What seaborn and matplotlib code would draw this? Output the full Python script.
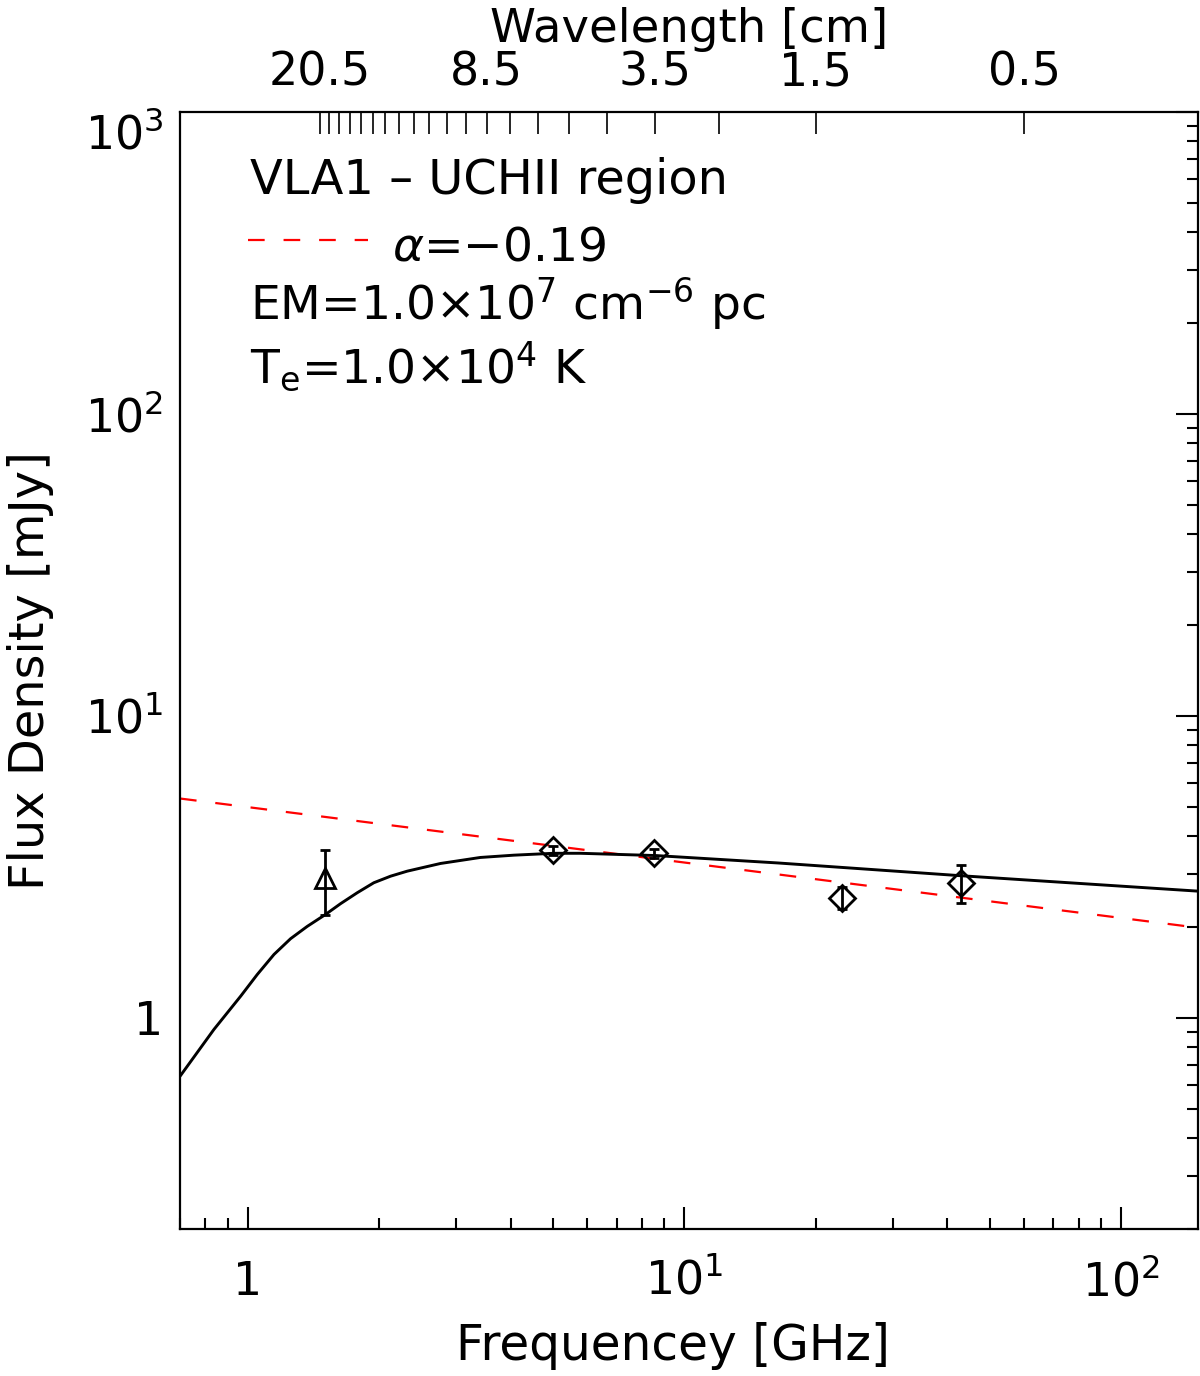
import numpy as np
import pandas as pd
import matplotlib
matplotlib.use('Agg')
import matplotlib.pyplot as plt
import matplotlib.ticker as mticker
import seaborn as sns

# observed flux densities of VLA1 (GHz, mJy)
obs_freq = [1.5, 5.0, 8.5, 23.0, 43.0]
obs_flux = [2.90, 3.59, 3.51, 2.50, 2.80]
obs_err = [0.70, 0.12, 0.12, 0.21, 0.40]
obs_marker = ['^', 'D', 'D', 'D', 'D']

# free-free model curve
model_freq = [0.70, 0.837, 0.964, 1.052, 1.149, 1.254, 1.369, 1.508, 1.632,
              1.782, 1.945, 2.125, 2.32, 2.765, 3.41, 4.07, 5.02, 5.78, 8.6,
              16.4, 42.7, 150.0]
model_flux = [0.641, 0.916, 1.181, 1.393, 1.623, 1.83, 2.01, 2.202, 2.39,
              2.598, 2.804, 2.948, 3.063, 3.248, 3.40, 3.46, 3.51, 3.51, 3.45,
              3.26, 2.96, 2.63]

# power law fit alpha = -0.19
fit_freq = [0.7, 150.0]
fit_flux = [5.33, 1.99]

# top axis: wavelength ticks (cm)
wave_ticks = [0.5, 1.5, 2.5, 3.5, 4.5, 5.5, 6.5, 7.5, 8.5, 9.5, 10.5, 11.5,
              12.5, 13.5, 14.5, 15.5, 16.5, 17.5, 18.5, 19.5, 20.5]
wave_labels = [0.5, 1.5, 3.5, 8.5, 20.5]

x_ticks = [1, 10, 100]
x_ticklabels = ['1', r'$10^1$', r'$10^2$']
y_ticks = [1, 10, 100, 1000]
y_ticklabels = ['1', r'$10^1$', r'$10^2$', r'$10^3$']

sns.set_style('white')
plt.rcParams['font.family'] = ['DejaVu Sans']
plt.rcParams['mathtext.fontset'] = 'dejavusans'
plt.rcParams['text.color'] = 'black'
plt.rcParams['axes.labelcolor'] = 'black'
plt.rcParams['xtick.color'] = 'black'
plt.rcParams['ytick.color'] = 'black'

dash = (0, (7.5, 8.5))

fig = plt.figure(figsize=(12, 13.76), dpi=100)
ax = fig.add_axes([0.15, 0.1068, 0.8483, 0.8118])

model = pd.DataFrame({'freq': model_freq, 'flux': model_flux})
fit = pd.DataFrame({'freq': fit_freq, 'flux': fit_flux})

sns.lineplot(data=fit, x='freq', y='flux', ax=ax, color='#ff0000', lw=1.6,
             linestyle=dash, sort=False, zorder=2)
sns.lineplot(data=model, x='freq', y='flux', ax=ax, color='black', lw=2.1,
             sort=False, zorder=3)

for f, s, e, m in zip(obs_freq, obs_flux, obs_err, obs_marker):
    ax.errorbar(f, s, yerr=e, fmt=m, mfc='none', mec='black', ecolor='black',
                ms=14 if m == '^' else 13, mew=2.0, elinewidth=2.0,
                capsize=3.6, capthick=2.2, zorder=4)

ax.set_xscale('log')
ax.set_yscale('log')
ax.set_xlim(0.7, 150)
ax.set_ylim(0.2, 1000)

ax.set_xticks(x_ticks)
ax.set_xticklabels(x_ticklabels)
ax.set_yticks(y_ticks)
ax.set_yticklabels(y_ticklabels)
ax.xaxis.set_minor_locator(mticker.LogLocator(base=10, subs=np.arange(2, 10), numticks=20))
ax.yaxis.set_minor_locator(mticker.LogLocator(base=10, subs=np.arange(2, 10), numticks=20))
ax.xaxis.set_minor_formatter(mticker.NullFormatter())
ax.yaxis.set_minor_formatter(mticker.NullFormatter())

ax.tick_params(which='both', direction='in', top=False, right=True,
               width=1.5, labelsize=33)
ax.tick_params(which='major', length=16)
ax.tick_params(which='minor', length=8)
ax.tick_params(axis='x', pad=22)
ax.tick_params(axis='y', pad=12)
# top y label sits below its tick, like the original
ax.yaxis.get_major_ticks()[-1].label1.set_verticalalignment('top')

for sp in ax.spines.values():
    sp.set_linewidth(1.6)
    sp.set_color('black')

ax.set_xlabel('Frequencey [GHz]', fontsize=35, labelpad=12)
ax.xaxis.label.set_x(0.484)
ax.set_ylabel('Flux Density [mJy]', fontsize=34.5, labelpad=22)

# wavelength axis on top
ax2 = ax.twiny()
ax2.set_xscale('log')
ax2.set_xlim(ax.get_xlim())
wave_pos = [29.98 / w for w in wave_ticks]
ax2.set_xticks(wave_pos)
ax2.set_xticklabels([('%.1f' % w) if w in wave_labels else '' for w in wave_ticks])
ax2.xaxis.set_minor_locator(mticker.NullLocator())
ax2.tick_params(axis='x', direction='in', length=16, width=1.2,
                labelsize=33, pad=12)
ax2.set_xlabel('Wavelength [cm]', fontsize=33.5, labelpad=6)
for sp in ax2.spines.values():
    sp.set_visible(False)

# annotations
tx = 0.0688
ax.text(tx, 0.9266, 'VLA1 \u2013 UCHII region', transform=ax.transAxes,
        fontsize=34.5, va='baseline')
ax.plot([0.0668, 0.1847], [0.8854, 0.8854], transform=ax.transAxes,
        color='#ff0000', lw=1.6, linestyle=dash)
ax.text(0.2083, 0.8675, '$\\alpha$=\u22120.19', transform=ax.transAxes,
        fontsize=34, va='baseline')
ax.text(tx, 0.8138, r'EM=1.0$\times$10$^{7}$ cm$^{-6}$ pc',
        transform=ax.transAxes, fontsize=34, va='baseline')
ax.text(tx, 0.7574, r'T$_{\rm e}$=1.0$\times$10$^{4}$ K',
        transform=ax.transAxes, fontsize=34, va='baseline')

fig.savefig('out.png', dpi=100)
